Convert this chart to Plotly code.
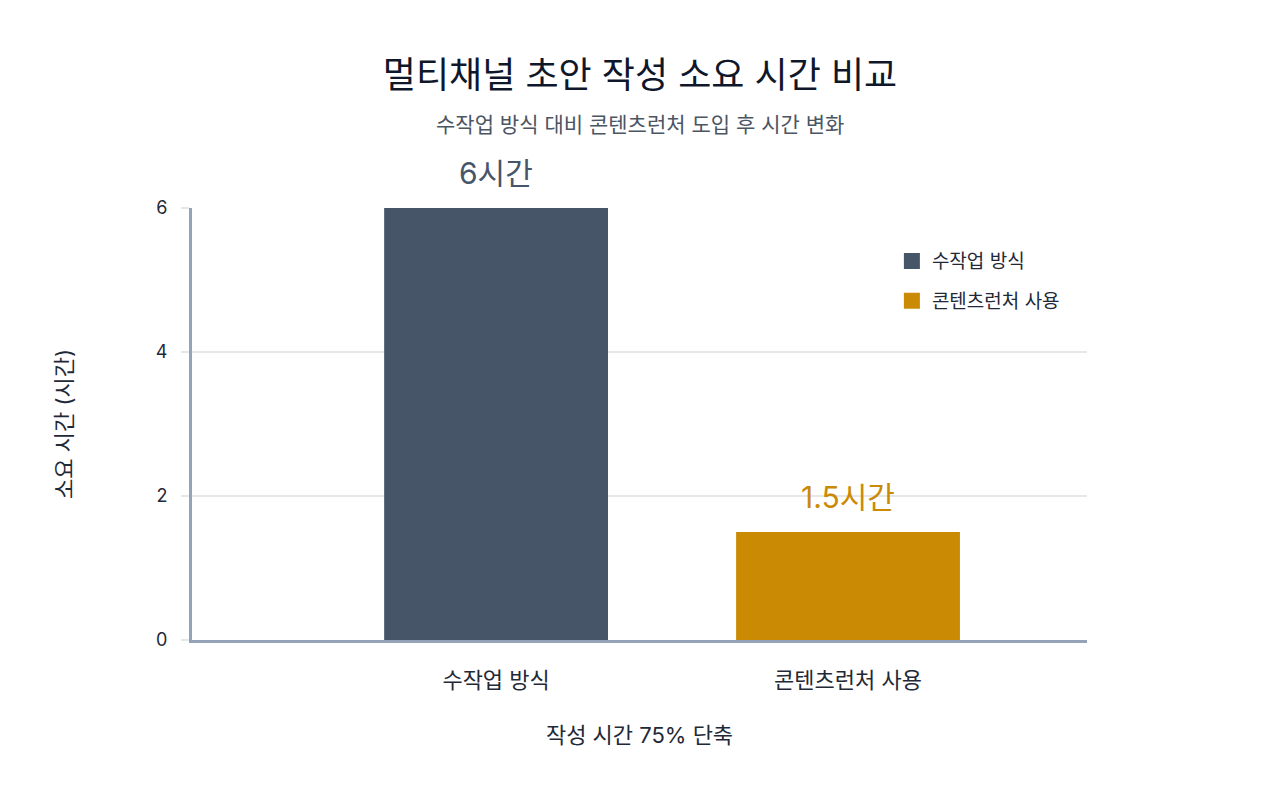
import plotly.graph_objects as go

categories = ["수작업 방식", "콘텐츠런처 사용"]
hours = [6, 1.5]
value_labels = ["6시간", "1.5시간"]
colors = ["#475569", "#CA8A04"]
y_ticks = [0, 2, 4, 6]

FONT = "Inter, 'Noto Sans CJK KR', sans-serif"

fig = go.Figure()
for i, cat in enumerate(categories):
    fig.add_trace(go.Bar(
        x=[cat], y=[hours[i]], marker=dict(color=colors[i], line=dict(width=0)),
        width=0.636, showlegend=False, hoverinfo="skip",
    ))
    fig.add_trace(go.Scatter(
        x=[None], y=[None], mode="markers", name=cat,
        marker=dict(symbol="square", size=22, color=colors[i]),
        legendgroup=str(i),
    ))
    fig.add_annotation(
        x=cat, y=hours[i], text=value_labels[i], showarrow=False,
        yanchor="middle", yshift=35, font=dict(size=30, color=colors[i], family=FONT),
    )

fig.add_annotation(
    text="수작업 방식 대비 콘텐츠런처 도입 후 시간 변화", xref="paper", yref="paper",
    x=0.5, y=1 + (208 - 124) / 432, showarrow=False, yanchor="middle",
    font=dict(size=21, color="#4b5563", family=FONT),
)

fig.update_layout(
    width=1280, height=800,
    margin=dict(l=184, r=201, t=200, b=168),
    paper_bgcolor="white", plot_bgcolor="white",
    barmode="overlay",
    font=dict(family=FONT, color="#1f2937", size=18),
    title=dict(text="멀티채널 초안 작성 소요 시간 비교", x=0.49375, xanchor="center",
               y=1 - 67 / 800, yanchor="middle", yref="container",
               font=dict(size=36, color="#0f172a", family=FONT)),
    legend=dict(x=0.782, y=0.921, xanchor="left", yanchor="top",
                font=dict(size=19, color="#1f2937"), tracegroupgap=12,
                bgcolor="rgba(0,0,0,0)"),
    xaxis=dict(
        type="category", range=[-0.864, 1.679],
        showline=True, linecolor="#94a3b8", linewidth=3,
        showgrid=False, ticks="", ticklabelstandoff=19,
        tickfont=dict(size=22, color="#1f2937"),
        title=dict(text="작성 시간 75% 단축", standoff=36, font=dict(size=22, color="#1f2937")),
    ),
    yaxis=dict(
        range=[0, 6], tickvals=y_ticks,
        showline=True, linecolor="#94a3b8", linewidth=3,
        showgrid=True, gridcolor="#e5e7eb", gridwidth=2,
        ticks="outside", ticklen=8, tickcolor="#e5e7eb", tickwidth=2,
        ticklabelstandoff=10, zeroline=False,
        tickfont=dict(size=18, color="#1f2937"),
        title=dict(text="소요 시간 (시간)", standoff=78, font=dict(size=22, color="#1f2937")),
    ),
)

fig.write_html("out.html")
